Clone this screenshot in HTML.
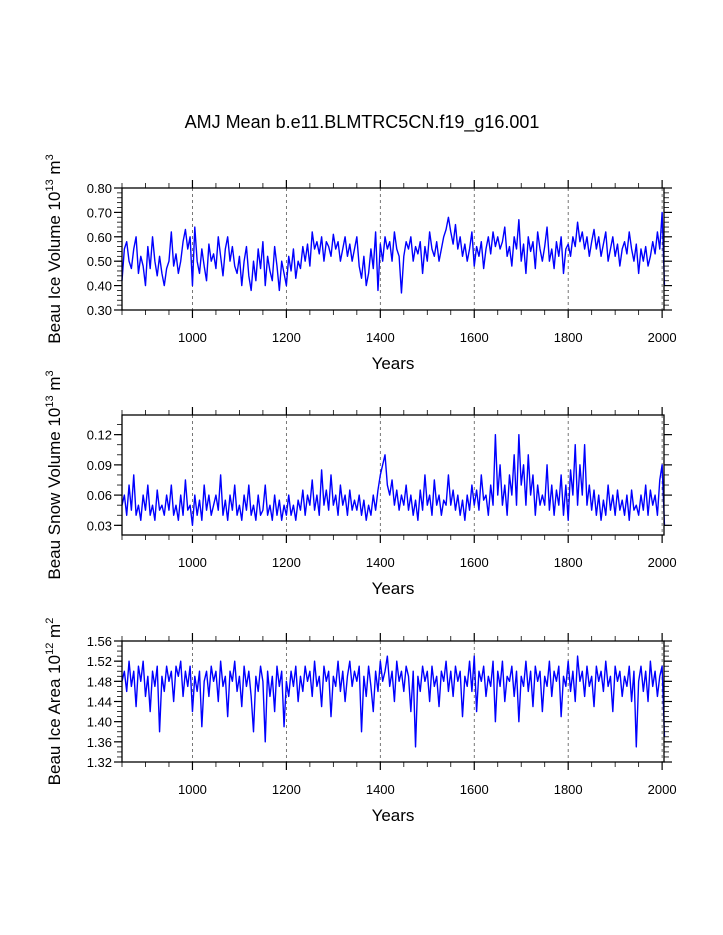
<!DOCTYPE html>
<html><head><meta charset="utf-8"><style>
body{margin:0;background:#fff;}
svg{display:block;font-family:"Liberation Sans",Arial,sans-serif;}
</style></head><body>
<svg id="chart" width="723" height="935" xmlns="http://www.w3.org/2000/svg">
<rect width="723" height="935" fill="#fff"/>
<text x="362" y="128" font-size="18" text-anchor="middle">AMJ Mean b.e11.BLMTRC5CN.f19_g16.001</text>
</svg>
<script>
const startYear = 850;
const stepYears = 5;
const xTicks = [1000,1200,1400,1600,1800,2000];
const iceVolume = [
0.42,0.55,0.58,0.50,0.47,0.55,0.60,0.45,0.52,0.48,0.40,0.56,0.47,0.60,0.50,0.44,0.52,0.45,0.40,0.47,
0.50,0.62,0.48,0.53,0.45,0.50,0.58,0.63,0.55,0.60,0.40,0.64,0.50,0.45,0.55,0.48,0.42,0.57,0.50,0.53,
0.47,0.60,0.52,0.44,0.55,0.60,0.50,0.56,0.48,0.45,0.52,0.40,0.50,0.56,0.44,0.38,0.50,0.42,0.55,0.47,
0.58,0.40,0.52,0.46,0.42,0.56,0.48,0.38,0.50,0.45,0.40,0.52,0.46,0.55,0.43,0.50,0.47,0.56,0.50,0.57,
0.48,0.62,0.55,0.58,0.53,0.60,0.50,0.58,0.56,0.52,0.61,0.55,0.58,0.50,0.55,0.60,0.52,0.57,0.50,0.55,
0.60,0.48,0.43,0.52,0.40,0.45,0.55,0.47,0.62,0.38,0.57,0.50,0.60,0.55,0.58,0.50,0.62,0.55,0.52,0.37,
0.52,0.58,0.55,0.60,0.50,0.56,0.53,0.58,0.45,0.56,0.50,0.62,0.55,0.52,0.58,0.50,0.55,0.60,0.63,0.68,
0.62,0.57,0.65,0.55,0.60,0.52,0.57,0.50,0.55,0.62,0.48,0.56,0.52,0.58,0.47,0.55,0.60,0.53,0.62,0.56,
0.60,0.55,0.58,0.64,0.52,0.56,0.48,0.60,0.55,0.67,0.50,0.57,0.45,0.60,0.54,0.58,0.47,0.62,0.55,0.50,
0.56,0.64,0.50,0.55,0.47,0.58,0.52,0.60,0.45,0.55,0.57,0.52,0.60,0.56,0.66,0.58,0.62,0.55,0.60,0.52,
0.58,0.63,0.55,0.60,0.52,0.57,0.62,0.50,0.55,0.60,0.52,0.57,0.48,0.55,0.58,0.53,0.62,0.55,0.50,0.57,
0.45,0.55,0.50,0.56,0.48,0.52,0.58,0.53,0.62,0.55,0.70,0.40];
const snowVolume = [
0.05,0.06,0.04,0.07,0.045,0.08,0.04,0.05,0.035,0.06,0.045,0.07,0.04,0.05,0.035,0.065,0.045,0.05,0.04,0.06,
0.045,0.07,0.04,0.05,0.035,0.06,0.04,0.075,0.045,0.05,0.03,0.06,0.04,0.055,0.035,0.07,0.045,0.06,0.04,0.05,
0.06,0.045,0.08,0.04,0.055,0.035,0.06,0.045,0.07,0.04,0.05,0.035,0.06,0.045,0.07,0.04,0.05,0.035,0.06,0.04,
0.045,0.07,0.04,0.05,0.035,0.06,0.04,0.055,0.035,0.05,0.04,0.06,0.04,0.05,0.035,0.055,0.045,0.065,0.04,0.06,
0.05,0.075,0.045,0.06,0.04,0.085,0.05,0.065,0.045,0.08,0.05,0.06,0.04,0.07,0.05,0.06,0.04,0.065,0.045,0.055,
0.045,0.06,0.04,0.055,0.035,0.05,0.04,0.06,0.045,0.065,0.08,0.09,0.10,0.07,0.06,0.075,0.05,0.065,0.045,0.06,
0.05,0.07,0.045,0.06,0.04,0.055,0.035,0.065,0.045,0.08,0.05,0.06,0.04,0.075,0.05,0.06,0.04,0.055,0.05,0.08,
0.05,0.065,0.045,0.06,0.04,0.055,0.035,0.06,0.045,0.07,0.05,0.065,0.045,0.08,0.055,0.06,0.04,0.07,0.05,0.12,
0.06,0.09,0.05,0.07,0.04,0.08,0.06,0.10,0.05,0.12,0.07,0.09,0.05,0.10,0.06,0.08,0.04,0.07,0.05,0.06,
0.05,0.09,0.045,0.07,0.04,0.065,0.05,0.08,0.04,0.07,0.035,0.085,0.06,0.11,0.05,0.09,0.06,0.11,0.05,0.07,
0.045,0.065,0.04,0.06,0.035,0.055,0.04,0.07,0.045,0.06,0.04,0.065,0.045,0.055,0.04,0.06,0.035,0.065,0.045,0.05,
0.04,0.06,0.045,0.07,0.04,0.065,0.05,0.06,0.04,0.075,0.09,0.03];
const iceArea = [
1.48,1.50,1.46,1.52,1.47,1.50,1.43,1.51,1.48,1.52,1.45,1.49,1.42,1.50,1.47,1.51,1.38,1.49,1.46,1.51,
1.48,1.50,1.44,1.51,1.49,1.52,1.45,1.50,1.47,1.51,1.42,1.49,1.46,1.50,1.39,1.48,1.50,1.45,1.51,1.48,
1.50,1.44,1.52,1.47,1.49,1.41,1.50,1.48,1.52,1.46,1.49,1.43,1.51,1.47,1.50,1.45,1.38,1.49,1.46,1.51,
1.48,1.36,1.50,1.45,1.49,1.42,1.51,1.47,1.50,1.39,1.48,1.45,1.50,1.47,1.51,1.44,1.49,1.46,1.51,1.48,
1.50,1.45,1.52,1.47,1.49,1.43,1.51,1.48,1.50,1.41,1.49,1.47,1.52,1.46,1.50,1.44,1.49,1.52,1.47,1.50,
1.48,1.51,1.38,1.49,1.45,1.51,1.47,1.42,1.50,1.46,1.52,1.48,1.50,1.53,1.47,1.50,1.44,1.52,1.48,1.50,
1.46,1.51,1.49,1.42,1.50,1.35,1.49,1.46,1.51,1.48,1.50,1.44,1.51,1.47,1.49,1.43,1.50,1.48,1.52,1.46,
1.50,1.45,1.51,1.48,1.50,1.41,1.49,1.47,1.52,1.46,1.53,1.42,1.50,1.48,1.51,1.45,1.49,1.47,1.52,1.40,
1.50,1.47,1.52,1.44,1.49,1.48,1.51,1.45,1.50,1.40,1.49,1.47,1.52,1.46,1.50,1.43,1.51,1.48,1.50,1.42,
1.49,1.47,1.52,1.45,1.50,1.48,1.51,1.41,1.49,1.47,1.52,1.46,1.50,1.44,1.53,1.48,1.50,1.45,1.51,1.47,
1.49,1.43,1.51,1.48,1.50,1.46,1.52,1.47,1.49,1.42,1.51,1.48,1.50,1.45,1.49,1.47,1.51,1.44,1.50,1.35,
1.48,1.51,1.46,1.50,1.44,1.52,1.47,1.50,1.45,1.49,1.51,1.37];
const iceVolTicks = ["0.30","0.40","0.50","0.60","0.70","0.80"];
const snowTicks = ["0.03","0.06","0.09","0.12"];
const areaTicks = ["1.32","1.36","1.40","1.44","1.48","1.52","1.56"];

const NS = "http://www.w3.org/2000/svg";
const svg = document.getElementById('chart');
const X0 = 122, X1 = 664, YEAR0 = 850, YEAR1 = 2004;
function xs(y){ return X0 + (y - YEAR0) / (YEAR1 - YEAR0) * (X1 - X0); }
function mk(tag, attrs, parent){ const e = document.createElementNS(NS, tag); for (const k in attrs) e.setAttribute(k, attrs[k]); (parent||svg).appendChild(e); return e; }

const panels = [
 {name:'ice-volume', data:iceVolume, ticks:iceVolTicks, top:188, bot:310, vmin:0.30, vmax:0.80, minor:0.02, title:'Beau Ice Volume 10', exp1:'13', unit:'m', exp2:'3'},
 {name:'snow-volume', data:snowVolume, ticks:snowTicks, top:415, bot:535, vmin:0.0204, vmax:0.1395, minor:0.01, title:'Beau Snow Volume 10', exp1:'13', unit:'m', exp2:'3'},
 {name:'ice-area', data:iceArea, ticks:areaTicks, top:641, bot:762, vmin:1.32, vmax:1.56, minor:0.01, title:'Beau Ice Area 10', exp1:'12', unit:'m', exp2:'2'}
];

panels.forEach(p => {
  const g = mk('g', {});
  
  
  const ys = v => p.bot - (v - p.vmin) / (p.vmax - p.vmin) * (p.bot - p.top);
  // gridlines
  xTicks.forEach(t => {
    const l = mk('line', {x1:xs(t), x2:xs(t), y1:p.top, y2:p.bot, stroke:'#555', 'stroke-width':0.8, 'stroke-dasharray':'3,3'}, g);
    
    
  });
  // series
  let d = '';
  p.data.forEach((v, i) => { d += (i ? 'L' : 'M') + xs(startYear + i * stepYears).toFixed(2) + ',' + ys(v).toFixed(2); });
  const path = mk('path', {d:d, fill:'none', stroke:'#0000ff', 'stroke-width':1.4, 'stroke-linejoin':'round'}, g);
  
  
  // x ticks
  for (let yr = 850; yr <= 2000; yr += 50) {
    const major = yr % 200 === 0;
    const len = major ? 8 : 5;
    const x = xs(yr);
    mk('line', {x1:x, x2:x, y1:p.bot, y2:p.bot + len, stroke:'#000', 'stroke-width':major?1.2:0.8}, g);
    mk('line', {x1:x, x2:x, y1:p.top, y2:p.top - len, stroke:'#000', 'stroke-width':major?1.2:0.8}, g);
  }
  xTicks.forEach(t => {
    const tx = mk('text', {x:xs(t), y:p.bot + 32, 'font-size':13, 'text-anchor':'middle'}, g);
    tx.textContent = t;
    
    
  });
  // y minor ticks
  for (let v = p.vmin - (p.vmin % p.minor) ; v <= p.vmax + 1e-9; v += p.minor) {
    if (v < p.vmin - 1e-9) continue;
    const y = ys(v);
    mk('line', {x1:X0 - 5, x2:X0, y1:y, y2:y, stroke:'#000', 'stroke-width':0.8}, g);
    mk('line', {x1:X1, x2:X1 + 5, y1:y, y2:y, stroke:'#000', 'stroke-width':0.8}, g);
  }
  p.ticks.forEach(t => {
    const y = ys(parseFloat(t));
    mk('line', {x1:X0 - 8, x2:X0, y1:y, y2:y, stroke:'#000', 'stroke-width':1.2}, g);
    mk('line', {x1:X1, x2:X1 + 8, y1:y, y2:y, stroke:'#000', 'stroke-width':1.2}, g);
    const tx = mk('text', {x:X0 - 10, y:y + 5, 'font-size':13, 'text-anchor':'end'}, g);
    tx.textContent = t;
    
    
  });
  // frame
  const fr = mk('rect', {x:X0, y:p.top, width:X1 - X0, height:p.bot - p.top, fill:'none', stroke:'#000', 'stroke-width':1.3}, g);
  
  
  // x title
  const xt = mk('text', {x:(X0 + X1) / 2, y:p.bot + 59, 'font-size':17, 'text-anchor':'middle'}, g);
  xt.textContent = 'Years';
  
  
  // y title
  const cy = (p.top + p.bot) / 2;
  const yt = mk('text', {x:0, y:0, 'font-size':17, 'text-anchor':'middle', transform:'translate(60,' + cy + ') rotate(-90)'}, g);
  
  
  const t1 = mk('tspan', {}, yt); t1.textContent = p.title;
  const t2 = mk('tspan', {dy:-7, 'font-size':11}, yt); t2.textContent = p.exp1;
  const t3 = mk('tspan', {dy:7}, yt); t3.textContent = ' ' + p.unit;
  const t4 = mk('tspan', {dy:-7, 'font-size':11}, yt); t4.textContent = p.exp2;
});
</script>
</body></html>
